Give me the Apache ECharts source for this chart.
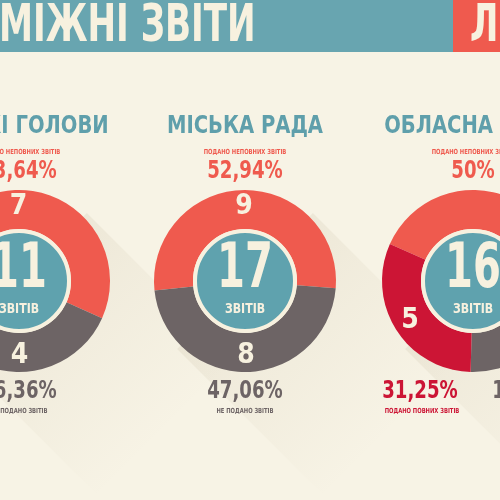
<!DOCTYPE html>
<html>
<head>
<meta charset="utf-8">
<script src="https://cdn.jsdelivr.net/npm/echarts@6/dist/echarts.min.js"></script>
<style>html,body{margin:0;padding:0;background:#f7f3e5;}#c{width:500px;height:500px;}</style>
</head>
<body>
<div id="c"></div>
<script>
// ---- data ----
const headerText = 'МІЖНІ ЗВІТИ';
const headerRight = 'Л';
const groups = ['МІСЬКІ ГОЛОВИ', 'МІСЬКА РАДА', 'ОБЛАСНА РАДА'];
const totals = [11, 17, 16];
const incomplete = [7, 9, 8];
const notSubmitted = [4, 8, 3];
const complete = [0, 0, 5];
const incompletePct = ['63,64%', '52,94%', '50%'];
const notSubmittedPct = ['36,36%', '47,06%', '18,75%'];
const completePct = ['', '', '31,25%'];
const lblIncomplete = 'ПОДАНО НЕПОВНИХ ЗВІТІВ';
const lblNotSubmitted = 'НЕ ПОДАНО ЗВІТІВ';
const lblComplete = 'ПОДАНО ПОВНИХ ЗВІТІВ';
const lblReports = 'ЗВІТІВ';

// ---- layout / style ----
const centersX = [19, 245, 473];
const cy = 281;
const startAngles = [205, 186, 156];
const R_OUT = 91, R_IN = 52;
const C = {
  bg: '#f7f3e5', band: '#68a5b0', bandRed: '#ef5a4e', cream: '#f7f1df',
  red: '#ef5a4e', gray: '#6d6465', crimson: '#cc1535', teal: '#5fa2ae', title: '#5f9fab'
};
const FONT = '"DejaVu Sans Condensed", "DejaVu Sans", sans-serif';

const chart = echarts.init(document.getElementById('c'), null, {renderer: 'canvas'});

function txt(x, y, text, size, color, sx, align, z) {
  return {
    type: 'text', x: x, y: y, scaleX: sx, scaleY: 1, silent: true, z: z || 10,
    style: {text: text, fontSize: size, fontWeight: 'bold', fontFamily: FONT, fill: color,
      align: align || 'center', verticalAlign: 'middle'}
  };
}

const graphics = [];
// long shadows
centersX.forEach(function (cx) {
  const w = 96, L = 380, k = Math.SQRT1_2;
  graphics.push({
    type: 'polygon', silent: true, z: -5,
    shape: {points: [[cx + w * k, cy - w * k], [cx + w * k + L, cy - w * k + L],
      [cx - w * k + L, cy + w * k + L], [cx - w * k, cy + w * k]]},
    style: {fill: new echarts.graphic.LinearGradient(0, 0, 1, 1, [
      {offset: 0, color: 'rgba(140,120,80,0.14)'},
      {offset: 0.22, color: 'rgba(140,120,80,0.06)'},
      {offset: 0.42, color: 'rgba(140,120,80,0)'}])}
  });
});
// header band
graphics.push({type: 'rect', silent: true, z: 1, shape: {x: 0, y: 0, width: 500, height: 52}, style: {fill: C.band}});
graphics.push({type: 'rect', silent: true, z: 2, shape: {x: 453, y: 0, width: 47, height: 52}, style: {fill: C.bandRed}});
graphics.push(txt(-1, 27, headerText, 52, C.cream, 0.73, 'left'));
graphics.push(txt(470, 27, headerRight, 52, C.cream, 0.73, 'left'));

groups.forEach(function (g, i) {
  const cx = centersX[i];
  graphics.push(txt(cx, 126, g, 25, C.title, 0.87));
  graphics.push(txt(cx, 152, lblIncomplete, 7, C.red, 0.83));
  graphics.push(txt(cx, 172, incompletePct[i], 24, C.red, 0.84));
  graphics.push(txt(cx, 271, String(totals[i]), 62, C.cream, 0.72, 'center', 20));
  graphics.push(txt(cx, 309, lblReports, 14, C.cream, 0.87, 'center', 20));
  if (complete[i]) {
    graphics.push(txt(cx - 53, 392, completePct[i], 24, C.crimson, 0.84));
    graphics.push(txt(cx - 51, 411, lblComplete, 7, C.crimson, 0.83));
    graphics.push(txt(cx + 57, 392, notSubmittedPct[i], 24, C.gray, 0.84));
    graphics.push(txt(cx + 57, 411, lblNotSubmitted, 7, C.gray, 0.83));
  } else {
    graphics.push(txt(cx, 392, notSubmittedPct[i], 24, C.gray, 0.84));
    graphics.push(txt(cx, 411, lblNotSubmitted, 7, C.gray, 0.83));
  }
});

const series = [];
groups.forEach(function (g, i) {
  const data = [{name: 'incomplete', value: incomplete[i], itemStyle: {color: C.red},
    label: {show: i !== 2}}];
  data.push({name: 'not', value: notSubmitted[i], itemStyle: {color: C.gray}});
  if (complete[i]) {
    data.push({name: 'complete', value: complete[i], itemStyle: {color: C.crimson}});
  }
  series.push({
    type: 'pie', center: [centersX[i], cy], radius: [R_IN, R_OUT], startAngle: startAngles[i],
    clockwise: true, silent: true, animation: false, avoidLabelOverlap: false,
    label: {show: true, position: 'inside', formatter: '{c}', color: C.cream, fontSize: 28,
      fontWeight: 'bold', fontFamily: FONT, textBorderWidth: 0},
    labelLine: {show: false}, emphasis: {disabled: true}, data: data
  });
  series.push({
    type: 'pie', center: [centersX[i], cy], radius: [0, 50], silent: true, animation: false,
    label: {show: false}, labelLine: {show: false}, emphasis: {disabled: true},
    itemStyle: {color: C.teal, borderColor: C.cream, borderWidth: 4},
    data: [{name: 'total', value: totals[i]}]
  });
});

chart.setOption({
  backgroundColor: C.bg,
  animation: false,
  graphic: {elements: graphics},
  series: series
});
</script>
</body>
</html>
